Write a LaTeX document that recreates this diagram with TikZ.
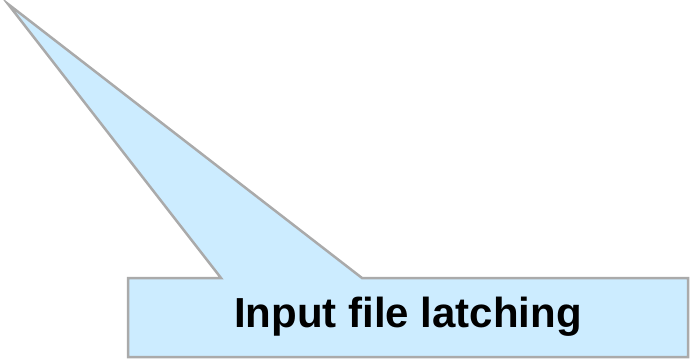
\documentclass[tikz,border=0pt]{standalone}
\usepackage{fontspec}
\setmainfont{Liberation Sans}
\definecolor{calloutfill}{RGB}{204,236,255}
\definecolor{calloutline}{RGB}{170,170,170}
\tikzset{
  callout/.style={fill=calloutfill, draw=calloutline, line width=2.5pt, line join=miter},
  label/.style={font=\fontsize{42}{48}\selectfont\bfseries, text=black, inner sep=0pt}
}
\begin{document}
\begin{tikzpicture}[x=1pt,y=-1pt]
\useasboundingbox (0,0) rectangle (690,359);
\draw[callout] (128,278) -- (221,278) -- (8,4) -- (362,278) -- (688,278) -- (688,357) -- (128,357) -- cycle;
\node[label] (txt) at (408,317) {Input file latching};
\end{tikzpicture}
\end{document}
